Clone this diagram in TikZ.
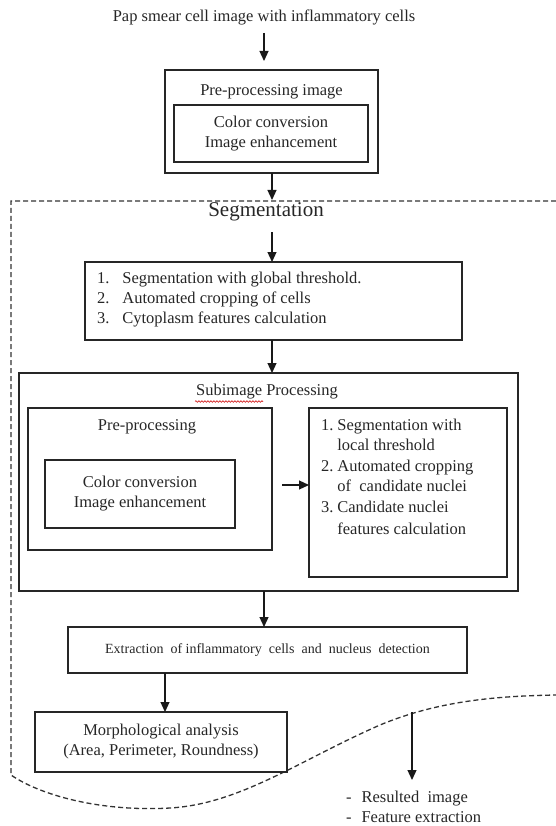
\documentclass[tikz,border=0pt]{standalone}
\usepackage{fontspec}
\setmainfont{Liberation Serif}
\usetikzlibrary{arrows.meta,decorations.pathmorphing}
\begin{document}
\begin{tikzpicture}[x=1pt,y=-1pt,
  every node/.style={inner sep=0pt,outer sep=0pt,text=black!85,font=\fontsize{16.5}{20}\selectfont},
  box/.style={draw=black!85,line width=1.4pt,align=center},
  arr/.style={draw=black!90,line width=1.2pt,-{Triangle[length=10pt,width=9pt]}},
  dash line/.style={draw=black!80,line width=1.3pt,dash pattern=on 5pt off 3pt},
  lbl/.style={align=center}]
\useasboundingbox (0,0) rectangle (556,826);

% top source
\node[lbl] (src) at (264,17) {Pap smear cell image with inflammatory cells};

% pre-processing image
\node[box,minimum width=213pt,minimum height=103pt] (preout) at (271.5,121.5) {};
\node[lbl] (pretitle) at (271.5,92) {Pre-processing image};
\node[box,minimum width=194pt,minimum height=57pt] (prein) at (271,133.5) {Color conversion\\Image enhancement};

\coordinate (s1) at (264,33);
\draw[arr] (s1) -- (264,61);
\coordinate (segtop) at (272,200);
\draw[arr] (preout.south -| segtop) -- (segtop);

% segmentation region
\draw[dash line] (556,201) -- (11,201) -- (11,775)
  .. controls (40,795) and (100,812) .. (170,808)
  .. controls (240,804) and (300,760) .. (380,725)
  .. controls (440,700) and (500,696) .. (556,695);

\node[lbl,font=\fontsize{21}{24}\selectfont] (seg) at (266,212) {Segmentation};

\node[box,minimum width=377pt,minimum height=78pt] (b1) at (273.5,301) {};
\node[anchor=north west,align=left] (b1txt) at (97,269) {%
  \begin{tabular}{@{}l@{\hspace{13pt}}l@{}}
  1. & Segmentation with global threshold.\\
  2. & Automated cropping of cells\\
  3. & Cytoplasm features calculation
  \end{tabular}};
\draw[arr] (272,232) -- (272,262);
\draw[arr] (272,340) -- (272,373);

% subimage processing
\node[box,minimum width=499pt,minimum height=218pt] (sub) at (268.5,482) {};
\node[lbl] (subtitle) at (267,392) {Subimage Processing};
\draw[red!80!black,line width=0.6pt,decorate,decoration={snake,amplitude=0.8pt,segment length=3pt}] (195,401.5) -- (263,401.5);

\node[box,minimum width=244pt,minimum height=142pt] (pp) at (150,479) {};
\node[lbl] (pptitle) at (147,427) {Pre-processing};
\node[box,minimum width=190pt,minimum height=68pt] (ppin) at (140,494) {Color conversion\\Image enhancement};

\node[box,minimum width=198pt,minimum height=169pt] (rb) at (408,492.5) {};
\node[anchor=north west,align=left] (rbtxt) at (321,416) {%
  \begin{tabular}{@{}l@{\hspace{4pt}}l@{}}
  1. & Segmentation with\\[0.5pt]
     & local threshold\\[0.5pt]
  2. & Automated cropping\\[0.5pt]
     & of\ \ candidate nuclei\\[0.5pt]
  3. & Candidate nuclei\\[2pt]
     & features calculation
  \end{tabular}};

\coordinate (a1) at ([xshift=10pt,yshift=-6pt]pp.east);
\draw[arr] (a1) -- (a1 -| rb.west);

% extraction
\node[box,minimum width=399pt,minimum height=46pt,font=\fontsize{14}{16}\selectfont] (ext) at (267.5,650) {Extraction\ \ of inflammatory\ \ cells\ \ and\ \ nucleus\ \ detection};
\draw[arr] (264,591) -- (264,627);

% morphological
\node[box,minimum width=252pt,minimum height=60pt] (morph) at (161,742) {Morphological analysis\\(Area, Perimeter, Roundness)};
\draw[arr] (165,673) -- (165,712);

% output
\coordinate (res) at (412,712);
\node[anchor=north west,align=left] (out) at (346,788) {%
  \begin{tabular}{@{}l@{\hspace{10pt}}l@{}}
  - & Resulted\ \ image\\
  - & Feature extraction
  \end{tabular}};
\draw[arr] (res) -- (412,780);
\end{tikzpicture}
\end{document}
